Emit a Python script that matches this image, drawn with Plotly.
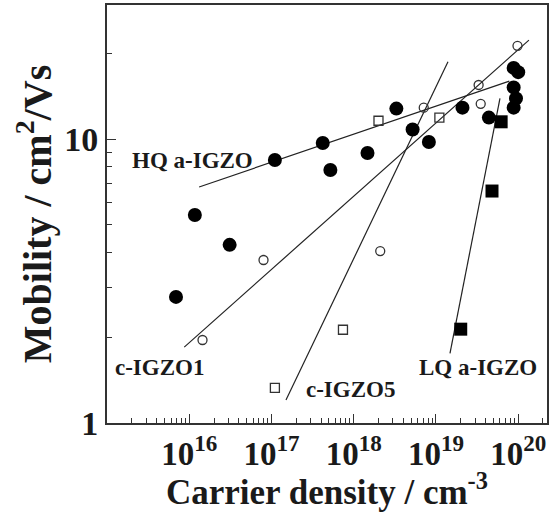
import math
import plotly.graph_objects as go

# HQ a-IGZO (filled circles)
hq_x = [6.9e15, 1.17e16, 3.1e16, 1.1e17, 4.2e17, 5.2e17, 1.47e18, 3.3e18, 5.2e18, 8.2e18, 2.1e19, 4.4e19, 8.8e19, 1.0e20, 8.8e19, 9.4e19, 8.8e19]
hq_y = [2.78, 5.4, 4.24, 8.44, 9.68, 7.78, 8.93, 12.8, 10.8, 9.76, 12.9, 11.9, 17.8, 17.2, 15.2, 13.9, 12.9]
# c-IGZO1 (open circles)
c1_x = [1.45e16, 8e16, 2.1e18, 7.1e18, 3.3e19, 3.5e19, 9.8e19]
c1_y = [1.96, 3.75, 4.03, 12.9, 15.5, 13.3, 21.3]
# c-IGZO5 (open squares)
c5_x = [1.1e17, 7.4e17, 2.0e18, 1.1e19]
c5_y = [1.33, 2.13, 11.6, 11.9]
# LQ a-IGZO (filled squares)
lq_x = [2.0e19, 4.8e19, 6.2e19]
lq_y = [2.14, 6.56, 11.5]

# fit lines (endpoints)
hq_fit_x = [1.32e16, 7.8e19]; hq_fit_y = [6.78, 16.0]
c1_fit_x = [8.7e15, 1.35e20]; c1_fit_y = [1.85, 22.3]
c5_fit_x = [1.5e17, 1.4e19]; c5_fit_y = [1.205, 18.7]
lq_fit_x = [1.48e19, 6.0e19]; lq_fit_y = [1.76, 13.9]

# annotations
labels = ["HQ a-IGZO", "c-IGZO1", "c-IGZO5", "LQ a-IGZO"]
label_x = [1.1e16, 4.3e15, 9.1e17, 3.2e19]
label_y = [8.43, 1.57, 1.31, 1.57]

x_ticks = [1e16, 1e17, 1e18, 1e19, 1e20]
x_ticktext = ["10<sup>16</sup>", "10<sup>17</sup>", "10<sup>18</sup>", "10<sup>19</sup>", "10<sup>20</sup>"]
y_ticks = [1, 10]
y_ticktext = ["1", "10"]

FONT = "Liberation Serif"
ink = "#1a1a1a"

fig = go.Figure()
for fx, fy in [(hq_fit_x, hq_fit_y), (c1_fit_x, c1_fit_y), (c5_fit_x, c5_fit_y), (lq_fit_x, lq_fit_y)]:
    fig.add_trace(go.Scatter(x=fx, y=fy, mode="lines", line=dict(color="#222", width=1.2), showlegend=False, hoverinfo="skip"))

fig.add_trace(go.Scatter(x=hq_x, y=hq_y, mode="markers", marker=dict(symbol="circle", size=14, color="black"), showlegend=False))
fig.add_trace(go.Scatter(x=c1_x, y=c1_y, mode="markers", marker=dict(symbol="circle-open", size=9, color="#333", line=dict(width=1.3)), showlegend=False))
fig.add_trace(go.Scatter(x=c5_x, y=c5_y, mode="markers", marker=dict(symbol="square-open", size=9, color="#333", line=dict(width=1.3)), showlegend=False))
fig.add_trace(go.Scatter(x=lq_x, y=lq_y, mode="markers", marker=dict(symbol="square", size=13, color="black"), showlegend=False))

# annotation positions on log axes are given in log10 units
for t, lx, ly in zip(labels, label_x, label_y):
    fig.add_annotation(x=math.log10(lx), y=math.log10(ly), xref="x", yref="y", text=t, showarrow=False,
                       font=dict(family=FONT, size=23, color=ink, weight="bold"))

minor_x = [float(m) * 10.0 ** e for e in range(15, 21) for m in range(2, 10)]
minor_y = [float(m) * 10.0 ** e for e in range(0, 2) for m in range(2, 10)]

fig.update_xaxes(type="log", range=[15.0, 20.35], tickvals=x_ticks, ticktext=x_ticktext,
                 ticks="inside", ticklen=9, tickwidth=1.3, tickcolor="#333",
                 minor=dict(tickvals=minor_x, ticks="inside", ticklen=5, tickwidth=1, tickcolor="#333"),
                 showline=True, linecolor="#333", linewidth=2, mirror=True, showgrid=False, zeroline=False,
                 tickfont=dict(family=FONT, size=33, color=ink, weight="bold"),
                 automargin=False,
                 title=dict(text="Carrier density / cm<sup>-3</sup>", font=dict(family=FONT, size=35, color=ink, weight="bold"), standoff=0))
fig.update_yaxes(type="log", range=[0, 1.472], tickvals=y_ticks, ticktext=y_ticktext,
                 ticks="inside", ticklen=9, tickwidth=1.3, tickcolor="#333",
                 minor=dict(tickvals=minor_y, ticks="inside", ticklen=5, tickwidth=1, tickcolor="#333"),
                 showline=True, linecolor="#333", linewidth=2, mirror=True, showgrid=False, zeroline=False,
                 tickfont=dict(family=FONT, size=34, color=ink, weight="bold"),
                 automargin=False,
                 title=dict(text="Mobility / cm<sup>2</sup>/Vs", font=dict(family=FONT, size=40, color=ink, weight="bold"), standoff=0))

fig.update_layout(width=556, height=512, margin=dict(l=107, r=9, t=5, b=89),
                  paper_bgcolor="white", plot_bgcolor="white")
fig.write_html("out.html")
